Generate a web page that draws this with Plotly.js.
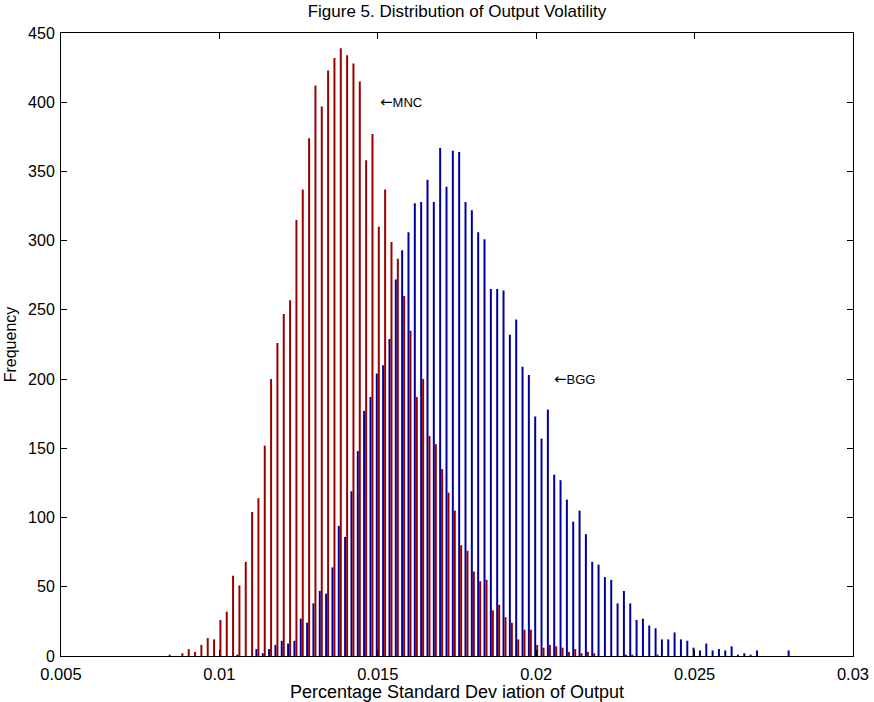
<!DOCTYPE html>
<html><head><meta charset="utf-8">
<script src="https://cdn.plot.ly/plotly-3.0.1.min.js"></script>
<style>html,body{margin:0;padding:0;background:#fff}</style>
</head><body>
<div id="chart" style="width:874px;height:702px"></div>
<script>
// Histogram bin centres (percentage standard deviation of output)
const binCenters = [
  0.0084, 0.0086, 0.0088, 0.0090, 0.0092, 0.0094, 0.0096, 0.0098,
  0.0100, 0.0102, 0.0104, 0.0106, 0.0108, 0.0110, 0.0112, 0.0114, 0.0116, 0.0118,
  0.0120, 0.0122, 0.0124, 0.0126, 0.0128, 0.0130, 0.0132, 0.0134, 0.0136, 0.0138,
  0.0140, 0.0142, 0.0144, 0.0146, 0.0148, 0.0150, 0.0152, 0.0154, 0.0156, 0.0158,
  0.0160, 0.0162, 0.0164, 0.0166, 0.0168, 0.0170, 0.0172, 0.0174, 0.0176, 0.0178,
  0.0180, 0.0182, 0.0184, 0.0186, 0.0188, 0.0190, 0.0192, 0.0194, 0.0196, 0.0198,
  0.0200, 0.0202, 0.0204, 0.0206, 0.0208, 0.0210, 0.0212, 0.0214, 0.0216, 0.0218,
  0.0220, 0.0222, 0.0224, 0.0226, 0.0228, 0.0230, 0.0232, 0.0234, 0.0236, 0.0238,
  0.0240, 0.0242, 0.0244, 0.0246, 0.0248, 0.0250, 0.0252, 0.0254, 0.0256, 0.0258,
  0.0260, 0.0262, 0.0264, 0.0266, 0.0268, 0.0270, 0.0272, 0.0274, 0.0276, 0.0278,
  0.0280
];
// MNC frequencies (dark red)
const mncCounts = [
  1, 0, 2, 5, 3, 8, 13, 12,
  26, 32, 58, 51, 68, 104, 114, 152, 200, 226,
  247, 257, 315, 337, 374, 412, 397, 423, 432, 439,
  434, 428, 415, 358, 377, 310, 337, 299, 287, 260,
  235, 187, 200, 159, 153, 135, 118, 105, 80, 76,
  61, 54, 55, 33, 37, 28, 24, 12, 19, 19,
  8, 6, 8, 7, 6, 3, 5, 2, 3, 2,
  0, 0, 0, 0, 1, 1, 0, 0, 0, 1,
  0, 0, 0, 0, 0, 0, 0, 0, 0, 0,
  0, 0, 0, 0, 0, 0, 0, 0, 0, 0,
  0
];
// BGG frequencies (dark blue)
const bggCounts = [
  0, 0, 0, 0, 0, 0, 0, 0,
  0, 0, 0, 1, 0, 0, 5, 2, 5, 8,
  11, 9, 11, 27, 24, 38, 47, 45, 64, 94,
  86, 119, 148, 177, 187, 204, 210, 229, 272, 293,
  306, 327, 328, 344, 328, 367, 339, 365, 364, 328,
  322, 306, 301, 265, 265, 264, 232, 243, 209, 203,
  173, 157, 178, 131, 127, 113, 97, 105, 88, 68,
  66, 57, 55, 38, 47, 38, 26, 27, 22, 20,
  12, 12, 17, 12, 11, 6, 4, 9, 4, 5,
  4, 7, 1, 2, 1, 4, 0, 0, 0, 0,
  4
];
const xTickVals = [0.005, 0.01, 0.015, 0.02, 0.025, 0.03];
const xTickText = ['0.005', '0.01', '0.015', '0.02', '0.025', '0.03'];
const yTickVals = [0, 50, 100, 150, 200, 250, 300, 350, 400, 450];
const labelMNC = {x: 0.0150, y: 400, text: 'MNC'};
const labelBGG = {x: 0.0205, y: 200, text: 'BGG'};

const font = 'Liberation Sans, Arial, Helvetica, sans-serif';
const arrow = '<span style="font-family:DejaVu Sans;font-size:15px">\u2190</span>';

const traces = [
  {type: 'bar', x: binCenters, y: bggCounts, name: 'BGG',
   marker: {color: '#00009c', line: {width: 0}}},
  {type: 'bar', x: binCenters, y: mncCounts, name: 'MNC',
   marker: {color: '#990000', line: {width: 0}}}
];

const layout = {
  width: 874, height: 702,
  margin: {l: 61, r: 21, t: 33, b: 46},
  paper_bgcolor: '#fff', plot_bgcolor: '#fff',
  showlegend: false,
  barmode: 'group', bargap: 0.37, bargroupgap: 0,
  font: {family: font, size: 16, color: '#000'},
  title: {text: 'Figure 5. Distribution of Output Volatility',
          font: {family: font, size: 17, color: '#000'},
          x: 0.5, xref: 'paper', y: 1 - 11/702, yref: 'container', yanchor: 'middle'},
  xaxis: {
    range: [0.005, 0.03], tickvals: xTickVals, ticktext: xTickText,
    ticks: 'inside', ticklen: 6, tickcolor: '#000', tickwidth: 1,
    showline: true, linecolor: '#000', linewidth: 1, mirror: 'ticks',
    showgrid: false, zeroline: false, ticklabelstandoff: 3,
    tickfont: {family: font, size: 16.5, color: '#000'},
    title: {text: 'Percentage Standard Dev iation of Output', standoff: 1,
            font: {family: font, size: 18, color: '#000'}}
  },
  yaxis: {
    range: [0, 450], tickvals: yTickVals,
    ticks: 'inside', ticklen: 6, tickcolor: '#000', tickwidth: 1,
    showline: true, linecolor: '#000', linewidth: 1, mirror: 'ticks',
    showgrid: false, zeroline: false, ticklabelstandoff: 2,
    tickfont: {family: font, size: 16, color: '#000'},
    title: {text: 'Frequency', standoff: 7,
            font: {family: font, size: 16, color: '#000'}}
  },
  annotations: [
    {x: labelMNC.x, y: labelMNC.y, xref: 'x', yref: 'y', text: arrow + labelMNC.text,
     showarrow: false, xanchor: 'left', yanchor: 'middle',
     font: {family: font, size: 13, color: '#000'}},
    {x: labelBGG.x, y: labelBGG.y, xref: 'x', yref: 'y', text: arrow + labelBGG.text,
     showarrow: false, xanchor: 'left', yanchor: 'middle',
     font: {family: font, size: 13, color: '#000'}}
  ]
};

Plotly.newPlot('chart', traces, layout, {displayModeBar: false, staticPlot: true});
</script>
</body></html>
